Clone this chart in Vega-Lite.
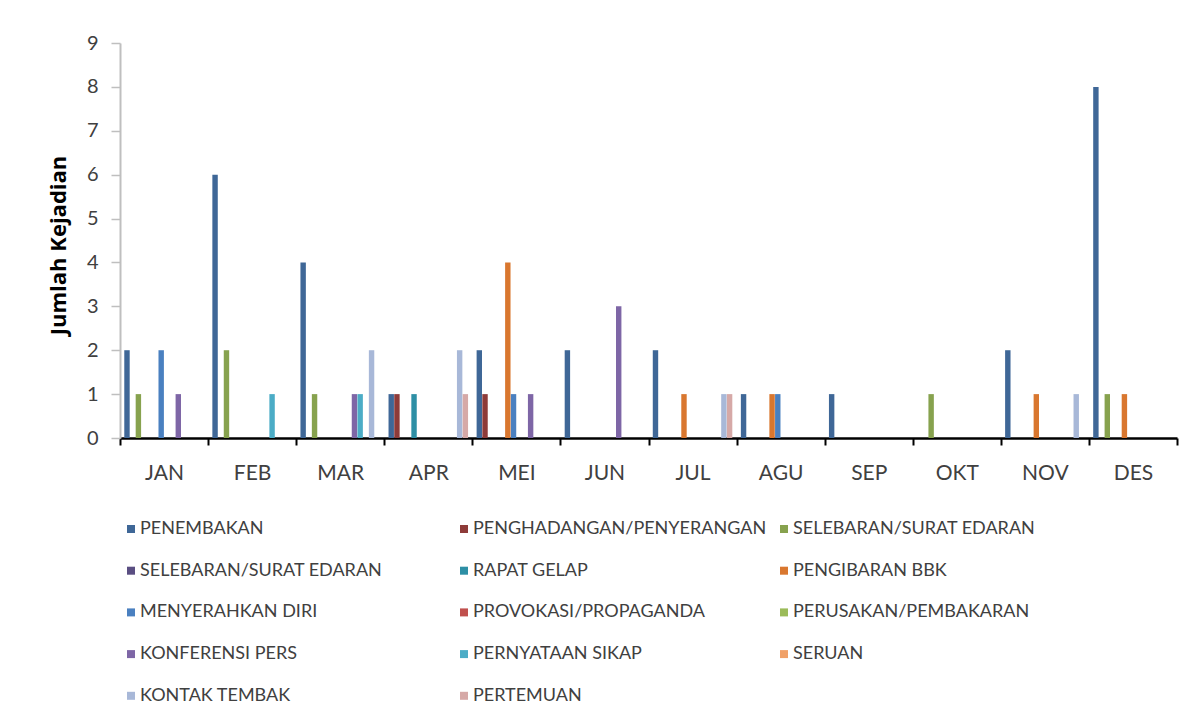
{
  "$schema": "https://vega.github.io/schema/vega-lite/v6.json",
  "width": 1057,
  "height": 395,
  "autosize": {"type": "none"},
  "padding": {"left": 120, "top": 43, "right": 17, "bottom": 284},
  "background": "white",
  "config": {
    "view": {"stroke": null},
    "font": "Lato",
    "legend": {
      "labelFont": "Lato",
      "labelFontSize": 18,
      "labelColor": "#404040",
      "rowPadding": 23.7,
      "labelOffset": 0,
      "padding": 0,
      "symbolType": "square",
      "symbolSize": 64,
      "symbolStrokeWidth": 0,
      "symbolOpacity": 1,
      "title": null,
      "direction": "vertical",
      "orient": "none",
      "labelLimit": 400
    }
  },
  "data": {
    "values": [
      {"bulan": "JAN", "no": 1, "kategori": "PENEMBAKAN", "jumlah": 2},
      {"bulan": "JAN", "no": 3, "kategori": "SELEBARAN/SURAT EDARAN", "jumlah": 1},
      {"bulan": "JAN", "no": 7, "kategori": "MENYERAHKAN DIRI", "jumlah": 2},
      {"bulan": "JAN", "no": 10, "kategori": "KONFERENSI PERS", "jumlah": 1},
      {"bulan": "FEB", "no": 1, "kategori": "PENEMBAKAN", "jumlah": 6},
      {"bulan": "FEB", "no": 3, "kategori": "SELEBARAN/SURAT EDARAN", "jumlah": 2},
      {"bulan": "FEB", "no": 11, "kategori": "PERNYATAAN SIKAP", "jumlah": 1},
      {"bulan": "MAR", "no": 1, "kategori": "PENEMBAKAN", "jumlah": 4},
      {"bulan": "MAR", "no": 3, "kategori": "SELEBARAN/SURAT EDARAN", "jumlah": 1},
      {"bulan": "MAR", "no": 10, "kategori": "KONFERENSI PERS", "jumlah": 1},
      {"bulan": "MAR", "no": 11, "kategori": "PERNYATAAN SIKAP", "jumlah": 1},
      {"bulan": "MAR", "no": 13, "kategori": "KONTAK TEMBAK", "jumlah": 2},
      {"bulan": "APR", "no": 1, "kategori": "PENEMBAKAN", "jumlah": 1},
      {"bulan": "APR", "no": 2, "kategori": "PENGHADANGAN/PENYERANGAN", "jumlah": 1},
      {"bulan": "APR", "no": 5, "kategori": "RAPAT GELAP", "jumlah": 1},
      {"bulan": "APR", "no": 13, "kategori": "KONTAK TEMBAK", "jumlah": 2},
      {"bulan": "APR", "no": 14, "kategori": "PERTEMUAN", "jumlah": 1},
      {"bulan": "MEI", "no": 1, "kategori": "PENEMBAKAN", "jumlah": 2},
      {"bulan": "MEI", "no": 2, "kategori": "PENGHADANGAN/PENYERANGAN", "jumlah": 1},
      {"bulan": "MEI", "no": 6, "kategori": "PENGIBARAN BBK", "jumlah": 4},
      {"bulan": "MEI", "no": 7, "kategori": "MENYERAHKAN DIRI", "jumlah": 1},
      {"bulan": "MEI", "no": 10, "kategori": "KONFERENSI PERS", "jumlah": 1},
      {"bulan": "JUN", "no": 1, "kategori": "PENEMBAKAN", "jumlah": 2},
      {"bulan": "JUN", "no": 10, "kategori": "KONFERENSI PERS", "jumlah": 3},
      {"bulan": "JUL", "no": 1, "kategori": "PENEMBAKAN", "jumlah": 2},
      {"bulan": "JUL", "no": 6, "kategori": "PENGIBARAN BBK", "jumlah": 1},
      {"bulan": "JUL", "no": 13, "kategori": "KONTAK TEMBAK", "jumlah": 1},
      {"bulan": "JUL", "no": 14, "kategori": "PERTEMUAN", "jumlah": 1},
      {"bulan": "AGU", "no": 1, "kategori": "PENEMBAKAN", "jumlah": 1},
      {"bulan": "AGU", "no": 6, "kategori": "PENGIBARAN BBK", "jumlah": 1},
      {"bulan": "AGU", "no": 7, "kategori": "MENYERAHKAN DIRI", "jumlah": 1},
      {"bulan": "SEP", "no": 1, "kategori": "PENEMBAKAN", "jumlah": 1},
      {"bulan": "OKT", "no": 3, "kategori": "SELEBARAN/SURAT EDARAN", "jumlah": 1},
      {"bulan": "NOV", "no": 1, "kategori": "PENEMBAKAN", "jumlah": 2},
      {"bulan": "NOV", "no": 6, "kategori": "PENGIBARAN BBK", "jumlah": 1},
      {"bulan": "NOV", "no": 13, "kategori": "KONTAK TEMBAK", "jumlah": 1},
      {"bulan": "DES", "no": 1, "kategori": "PENEMBAKAN", "jumlah": 8},
      {"bulan": "DES", "no": 3, "kategori": "SELEBARAN/SURAT EDARAN", "jumlah": 1},
      {"bulan": "DES", "no": 6, "kategori": "PENGIBARAN BBK", "jumlah": 1}
    ]
  },
  "encoding": {
    "x": {
      "field": "bulan",
      "type": "nominal",
      "sort": ["JAN", "FEB", "MAR", "APR", "MEI", "JUN", "JUL", "AGU", "SEP", "OKT", "NOV", "DES"],
      "scale": {"domain": ["JAN", "FEB", "MAR", "APR", "MEI", "JUN", "JUL", "AGU", "SEP", "OKT", "NOV", "DES"], "paddingInner": 0, "paddingOuter": 0},
      "axis": {
        "title": null,
        "labelAngle": 0,
        "tickBand": "extent",
        "labelFont": "Lato",
        "labelFontSize": 21,
        "labelColor": "#404040",
        "labelPadding": 17,
        "domainColor": "#000000",
        "domainWidth": 2.5,
        "tickColor": "#000000",
        "tickWidth": 2,
        "tickSize": 7,
        "grid": false
      }
    },
    "xOffset": {
      "field": "no",
      "type": "nominal",
      "scale": {"domain": [1, 2, 3, 4, 5, 6, 7, 8, 9, 10, 11, 12, 13, 14], "paddingOuter": 0.75, "paddingInner": 0.05}
    },
    "y": {
      "field": "jumlah",
      "type": "quantitative",
      "scale": {"domain": [0, 9], "nice": false},
      "axis": {
        "values": [0, 1, 2, 3, 4, 5, 6, 7, 8, 9],
        "title": "Jumlah Kejadian",
        "titleFont": "Open Sans",
        "titleFontSize": 22,
        "titleFontWeight": "bold",
        "titleColor": "#000000",
        "titleX": -62,
        "titleY": 202,
        "titleAngle": -90,
        "titleAlign": "center",
        "titleBaseline": "middle",
        "labelFont": "Lato",
        "labelFontSize": 20,
        "labelColor": "#404040",
        "labelPadding": 13,
        "domainColor": "#BFBFBF",
        "domainWidth": 2,
        "tickColor": "#BFBFBF",
        "tickWidth": 1.5,
        "tickSize": 9,
        "grid": false
      }
    }
  },
  "layer": [
    {
      "transform": [{"filter": {"field": "no", "oneOf": [1, 4, 7, 10, 13]}}],
      "mark": {"type": "bar"},
      "encoding": {
        "color": {
          "field": "kategori",
          "type": "nominal",
          "scale": {
            "domain": ["PENEMBAKAN", "SELEBARAN/SURAT EDARAN", "MENYERAHKAN DIRI", "KONFERENSI PERS", "KONTAK TEMBAK"],
            "range": ["#3F6797", "#5A4E82", "#4A80C0", "#7E66A6", "#A8B8D8"]
          },
          "legend": {"orient": "none", "legendX": 2, "legendY": 477}
        }
      }
    },
    {
      "transform": [{"filter": {"field": "no", "oneOf": [2, 5, 8, 11, 14]}}],
      "mark": {"type": "bar"},
      "encoding": {
        "color": {
          "field": "kategori",
          "type": "nominal",
          "scale": {
            "domain": ["PENGHADANGAN/PENYERANGAN", "RAPAT GELAP", "PROVOKASI/PROPAGANDA", "PERNYATAAN SIKAP", "PERTEMUAN"],
            "range": ["#8E3B39", "#2D8FA5", "#C0504D", "#4BACC6", "#D6A9A7"]
          },
          "legend": {"orient": "none", "legendX": 335, "legendY": 477}
        }
      }
    },
    {
      "transform": [{"filter": {"field": "no", "oneOf": [3, 6, 9, 12]}}],
      "mark": {"type": "bar"},
      "encoding": {
        "color": {
          "field": "kategori",
          "type": "nominal",
          "scale": {
            "domain": ["SELEBARAN/SURAT EDARAN", "PENGIBARAN BBK", "PERUSAKAN/PEMBAKARAN", "SERUAN"],
            "range": ["#87A24E", "#D9772F", "#9BBB59", "#F0A067"]
          },
          "legend": {"orient": "none", "legendX": 655, "legendY": 477}
        }
      }
    }
  ],
  "resolve": {"scale": {"color": "independent"}, "legend": {"color": "independent"}}
}
